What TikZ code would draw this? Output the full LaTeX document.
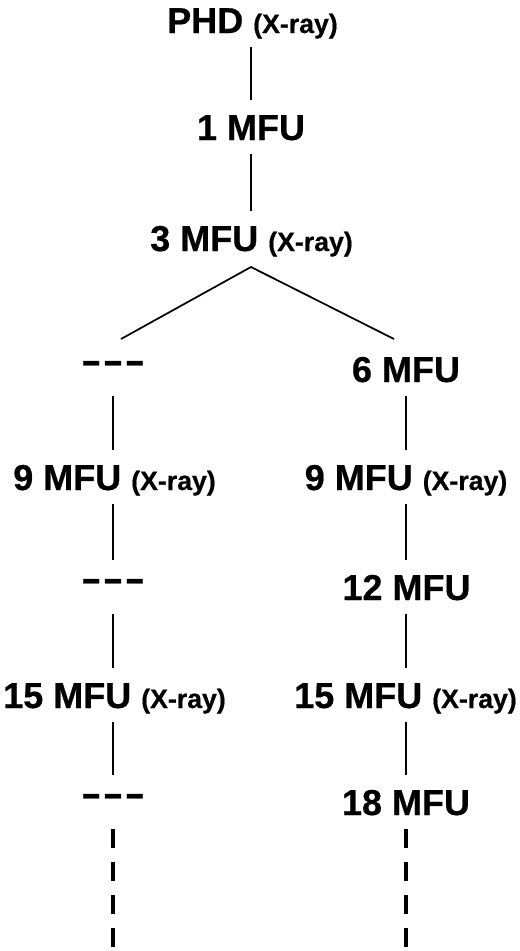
\documentclass[tikz,border=0pt]{standalone}
\usepackage{fontspec}
\setmainfont{Liberation Sans}[BoldFeatures={FakeBold=0.6}]
\newcommand{\xray}{{\fontsize{20}{24}\selectfont (X-ray)}}
\newcommand{\nodash}{\raisebox{5.4pt}{\scalebox{1}[1.35]{\fontsize{24}{26}\selectfont \char"2013\kern3pt\char"2013\kern3pt\char"2013}}}
\tikzset{
  lbl/.style={font=\bfseries\fontsize{27}{30}\selectfont, anchor=base,
    text height=19.5pt, text depth=0pt, inner xsep=0pt, inner ysep=10.5pt, outer sep=0pt},
  link/.style={line width=1pt},
  branch/.style={line width=1.3pt},
  cont/.style={line width=3pt, dash pattern=on 14.25pt off 10.5pt},
}
\begin{document}
\begin{tikzpicture}[x=0.75pt,y=-0.75pt]
\useasboundingbox (0,0) rectangle (520,951);
\node[lbl] (phd) at (252.5,33) {PHD \xray};
\node[lbl] (m1) at (251,140) {1 MFU};
\node[lbl] (m3) at (251.5,251) {3 MFU \xray};
\node[lbl] (l6) at (113,382) {\nodash};
\node[lbl] (r6) at (406,382) {6 MFU};
\node[lbl] (l9) at (114.5,490) {9 MFU \xray};
\node[lbl] (r9) at (406,490) {9 MFU \xray};
\node[lbl] (l12) at (113,600) {\nodash};
\node[lbl] (r12) at (406.5,600) {12 MFU};
\node[lbl] (l15) at (114.5,708) {15 MFU \xray};
\node[lbl] (r15) at (405.5,708) {15 MFU \xray};
\node[lbl] (l18) at (113,815) {\nodash};
\node[lbl] (r18) at (406,815) {18 MFU};
\coordinate (lend) at (113,951);
\coordinate (rend) at (406,951);
% trunk
\draw[link] (m1.north |- phd.south) -- (m1.north);
\draw[link] (m1.south) -- (m1.south |- m3.north);
% branches
\draw[branch] ([xshift=6pt,yshift=2.25pt]l6.north) -- ([yshift=-1.5pt]m1.south |- m3.south) -- ([xshift=-9pt,yshift=2.25pt]r6.north);
% left column
\draw[link] (l6.south) -- (l6.south |- l9.north);
\draw[link] (l6.south |- l9.south) -- (l12.north);
\draw[link] (l12.south) -- (l12.south |- l15.north);
\draw[link] (l12.south |- l15.south) -- (l18.north);
\draw[cont] (l18.south) -- (lend);
% right column
\draw[link] (r6.south) -- (r6.south |- r9.north);
\draw[link] (r6.south |- r9.south) -- (r6.south |- r12.north);
\draw[link] (r6.south |- r12.south) -- (r6.south |- r15.north);
\draw[link] (r6.south |- r15.south) -- (r18.north);
\draw[cont] (r18.south) -- (rend);
\end{tikzpicture}
\end{document}
